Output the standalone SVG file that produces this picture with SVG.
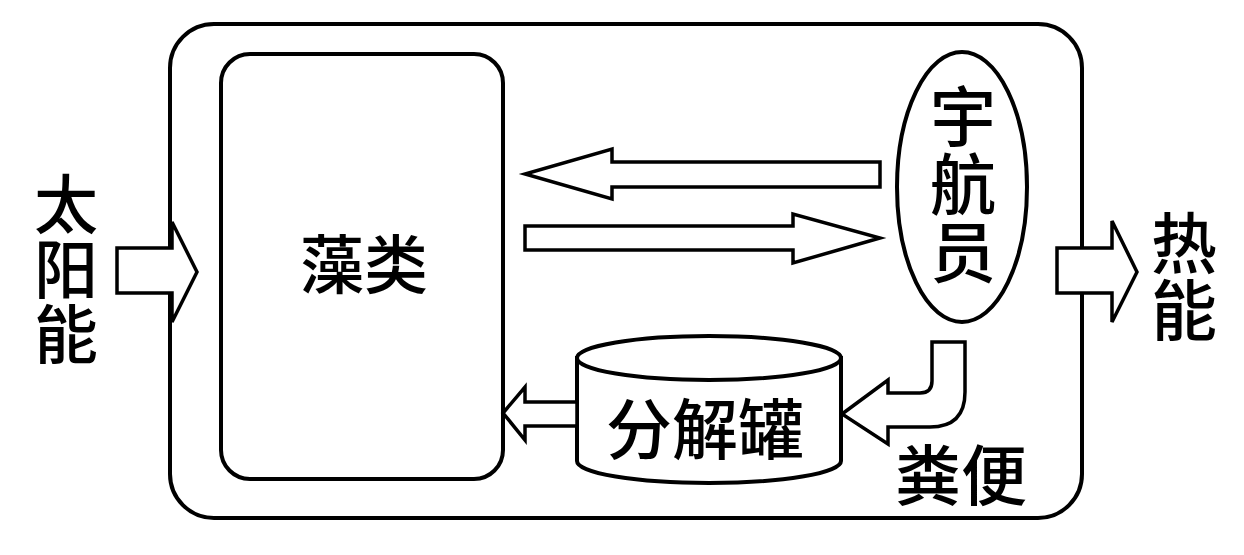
<svg xmlns="http://www.w3.org/2000/svg" width="1244" height="555" viewBox="0 0 1244 555">
<style>
.box{fill:#fff;stroke:#000;stroke-width:4}
.arr{fill:#fff;stroke:#000;stroke-width:3.5;stroke-linejoin:miter}
.t{font-family:"Noto Sans CJK SC","Noto Sans CJK JP",sans-serif;font-weight:500;fill:#000;text-anchor:middle}
.v{writing-mode:vertical-rl}
</style>
<rect width="1244" height="555" fill="#fff"/>
<g id="system">
<rect class="box" x="170" y="24" width="912" height="494" rx="44" ry="44"/>
</g>
<g id="algae">
<rect class="box" x="221" y="54" width="282" height="425" rx="29" ry="29"/>
<text class="t" x="364" y="288" font-size="64">藻类</text>
</g>
<g id="astronaut">
<ellipse class="box" cx="962" cy="187" rx="65" ry="135" stroke-width="3.5"/>
<text class="t v" x="963" y="116" font-size="66">宇</text>
<text class="t v" x="963" y="184" font-size="66">航</text>
<text class="t v" x="963" y="252" font-size="66">员</text>
</g>
<g id="tank">
<path class="box" stroke-width="3.5" d="M577,358 L577,461 A132,22 0 0 0 841,461 L841,358 Z"/>
<ellipse class="box" stroke-width="3.5" cx="709" cy="358" rx="132" ry="22"/>
<text class="t" x="705" y="454" font-size="66">分解罐</text>
</g>
<g id="solar">
<text class="t v" x="66" y="204" font-size="64">太</text>
<text class="t v" x="66" y="269" font-size="64">阳</text>
<text class="t v" x="66" y="334" font-size="64">能</text>
</g>
<g id="heat">
<text class="t v" x="1184" y="243" font-size="66">热</text>
<text class="t v" x="1184" y="310" font-size="66">能</text>
</g>
<g id="feces">
<text class="t" x="961" y="500" font-size="66">粪便</text>
</g>
<g id="connectors">
<polygon class="arr" points="117,248 172,248 172,222 197,272 172,322 172,293 117,293"/>
<polygon class="arr" points="1057,248 1112,248 1112,221 1137,272 1112,322 1112,293 1057,293"/>
<polygon class="arr" points="880,162 612,162 612,149 525,174 612,199 612,187 880,187"/>
<polygon class="arr" points="525,226 793,226 793,214 880,238 793,263 793,250 525,250"/>
<polygon class="arr" points="577,402 525,402 525,387 503,413 525,440 525,426 577,426"/>
<path class="arr" d="M932,342 L965,342 L965,392 Q965,427 930,427 L888,427 L888,444 L842,414 L888,380 L888,393 L920,393 Q932,393 932,381 Z"/>
</g>
</svg>
